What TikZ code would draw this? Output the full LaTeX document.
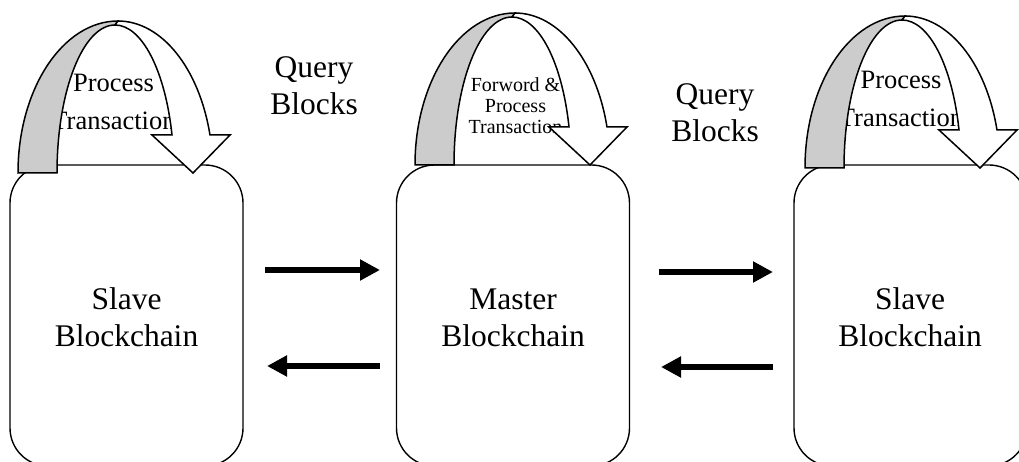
\documentclass[tikz,border=0pt]{standalone}
\usepackage{fontspec}
\setmainfont{Liberation Serif}
\usetikzlibrary{arrows.meta}
\tikzset{
  box/.style={draw, line width=1.4pt, rounded corners=38pt, minimum width=233pt, minimum height=301pt, inner sep=0pt},
  biglbl/.style={font=\fontsize{31.5}{37}\selectfont, align=center, inner sep=0pt, anchor=base},
  proclbl/.style={font=\fontsize{26.5}{38}\selectfont, align=center, inner sep=0pt, anchor=base},
  smalllbl/.style={font=\fontsize{20}{21}\selectfont, align=center, inner sep=0pt, anchor=base},
  flow/.style={line width=6.5pt, -{Triangle[length=20pt,width=20pt]}},
  backband/.style={fill=black!20, draw=black, line width=1.5pt, line join=miter},
  frontband/.style={fill=white, draw=black, line width=1.5pt, line join=miter},
  curvarrow/.pic={
    \path[backband] (0,0) arc[start angle=180,end angle=90,x radius=100pt,y radius=152pt]
      -- (97,148) arc[start angle=90,end angle=180,x radius=58pt,y radius=148pt] -- cycle;
    \path[frontband] (100,152) arc[start angle=90,end angle=14.48,x radius=95pt,y radius=152pt]
      -- (212,38) -- (175,0) -- (134,38) -- (154,38)
      arc[start angle=14.88,end angle=90,x radius=59pt,y radius=148pt] -- cycle;
  }
}
\begin{document}
\begin{tikzpicture}[x=1pt,y=1pt]
\useasboundingbox (0,0) rectangle (1019,-462);
\clip (0,0) rectangle (1019,-462);
% boxes
\node[box] (slaveL) at (126.5,-315.5) {};
\node[box] (master) at (513,-315.5) {};
\node[box] (slaveR) at (910.5,-315.5) {};
% texts inside the curved arrows (partly hidden by them); anchor = last baseline
\node[proclbl] (procL) at (113.5,-130) {Process\\Transaction};
\node[smalllbl] (procM) at (515.5,-134) {Forword \&\\Process\\Transaction};
\node[proclbl] (procR) at (901,-127) {Process\\Transaction};
% curved arrows
\pic (cL) at (18,-173) {curvarrow};
\pic (cM) at (415,-165) {curvarrow};
\pic (cR) at (805,-168) {curvarrow};
% labels
\node[biglbl] (tL) at (126.5,-346) {Slave\\Blockchain};
\node[biglbl] (tM) at (513,-346) {Master\\Blockchain};
\node[biglbl] (tR) at (910,-346) {Slave\\Blockchain};
\node[biglbl] (q1) at (314,-115) {Query\\Blocks};
\node[biglbl] (q2) at (715,-142) {Query\\Blocks};
% straight arrows
\coordinate (a1s) at (265,-270); \coordinate (a1e) at (380,-270);
\coordinate (b1s) at (380,-366); \coordinate (b1e) at (267,-366);
\coordinate (a2s) at (659,-272); \coordinate (a2e) at (773,-272);
\coordinate (b2s) at (773,-367); \coordinate (b2e) at (661,-367);
\draw[flow] (a1s) -- (a1e);
\draw[flow] (b1s) -- (b1e);
\draw[flow] (a2s) -- (a2e);
\draw[flow] (b2s) -- (b2e);
\end{tikzpicture}
\end{document}
